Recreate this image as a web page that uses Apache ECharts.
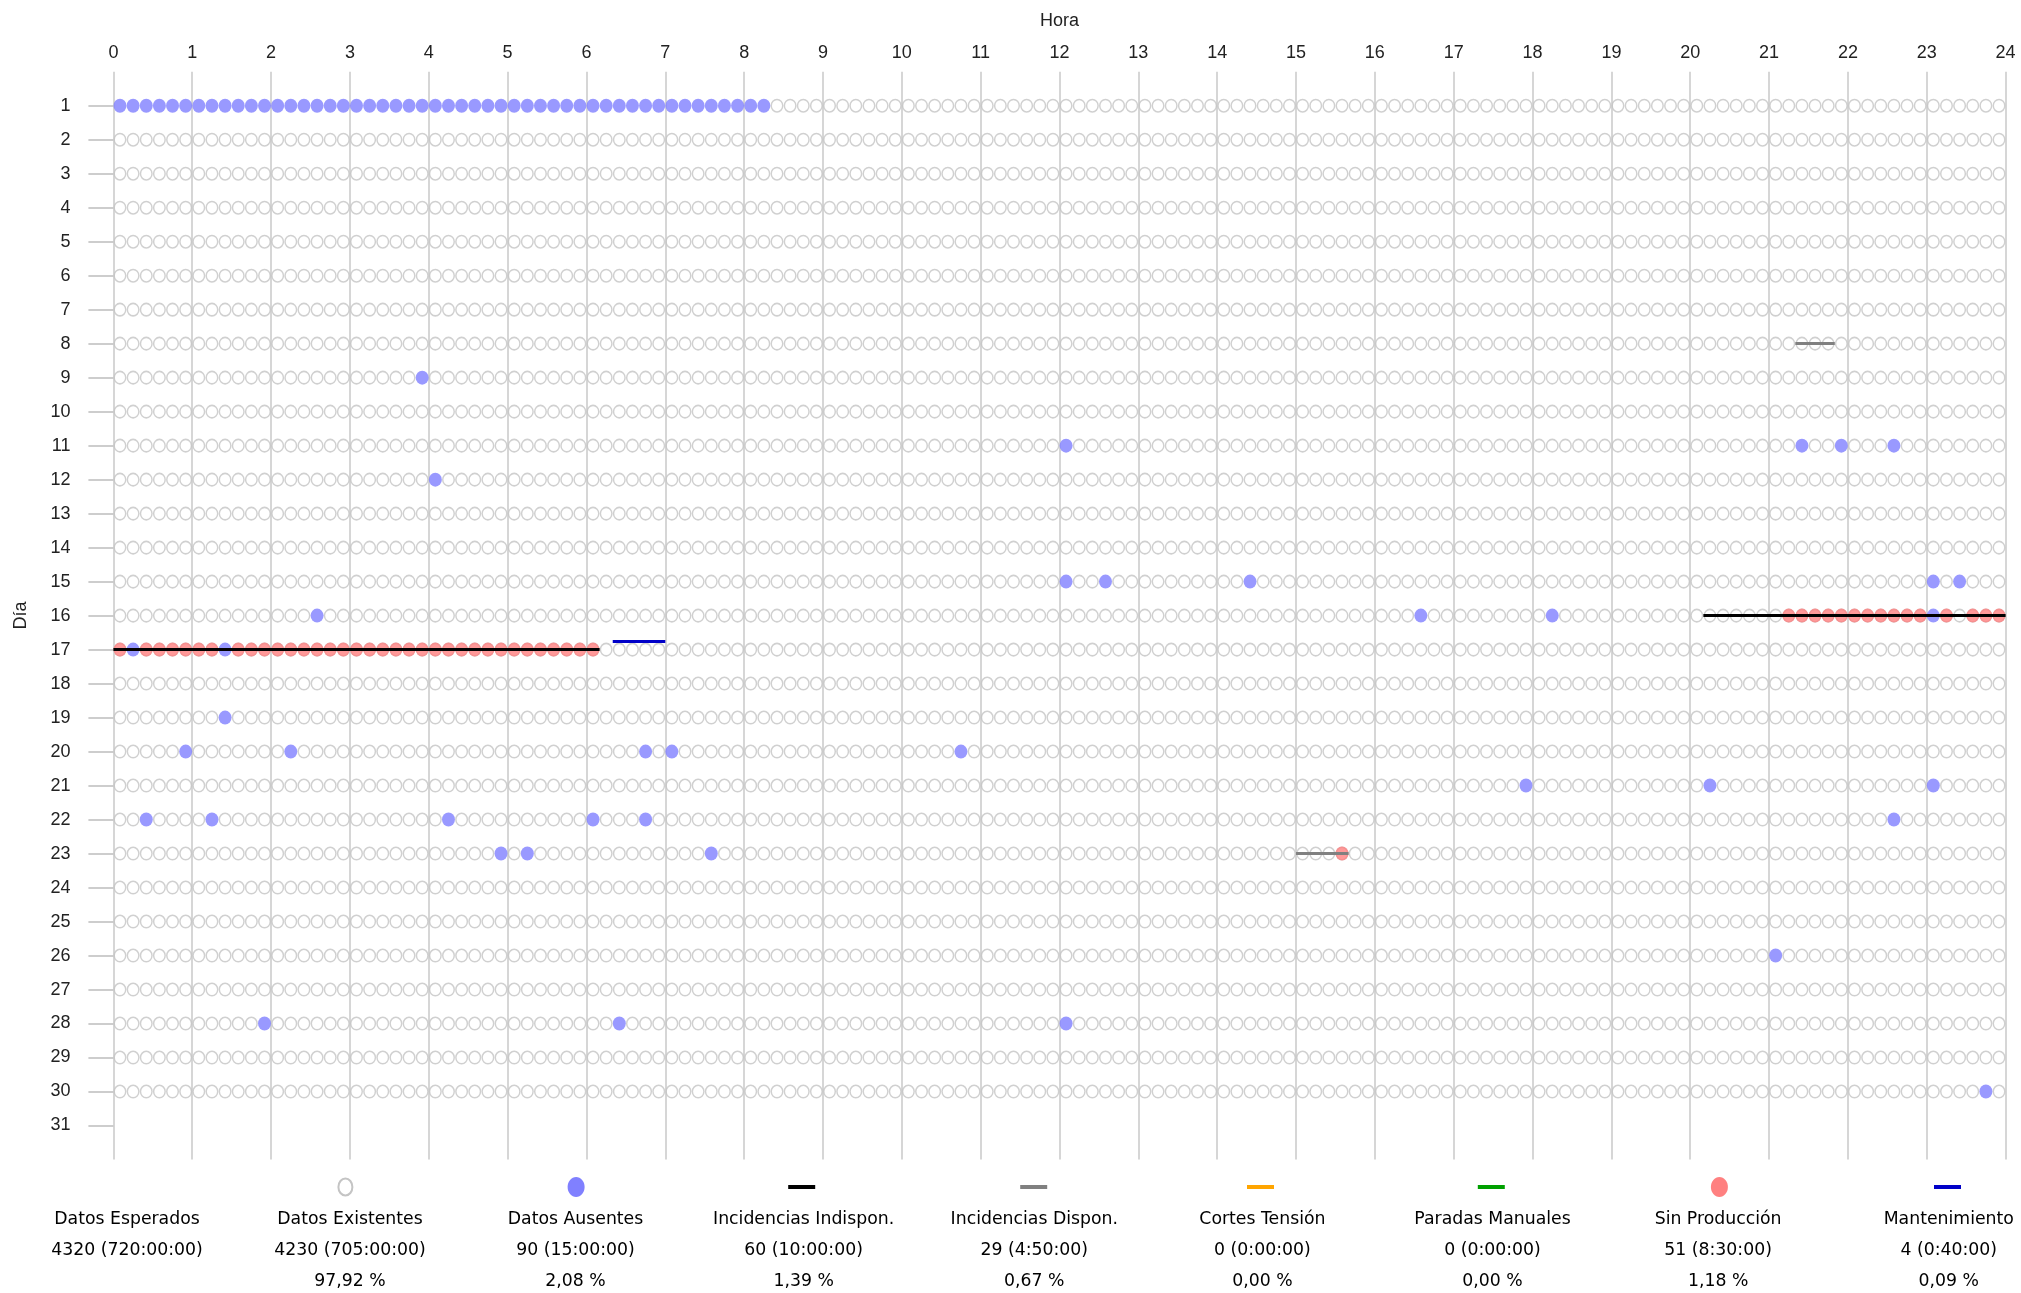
<!DOCTYPE html>
<html><head><meta charset="utf-8">
<script src="https://cdn.jsdelivr.net/npm/echarts@6/dist/echarts.min.js"></script>
<style>html,body{margin:0;padding:0;background:#fff}#c{width:2021px;height:1293px}</style>
</head><body><div id="c"></div>
<script>
// ---------- DATA ----------
const HOUR_TICKS = [0,1,2,3,4,5,6,7,8,9,10,11,12,13,14,15,16,17,18,19,20,21,22,23,24];
const DAY_TICKS = [1,2,3,4,5,6,7,8,9,10,11,12,13,14,15,16,17,18,19,20,21,22,23,24,25,26,27,28,29,30,31];
const DAYS_WITH_DATA = 30;      // days 1..30 have 10-minute records
const SLOT_MINUTES = 10;

// Missing records: [day, first slot start, last slot start]
const AUSENTES = [
  [1,'00:00','08:10'],
  [9,'03:50'],
  [11,'12:00'],[11,'21:20'],[11,'21:50'],[11,'22:30'],
  [12,'04:00'],
  [15,'12:00'],[15,'12:30'],[15,'14:20'],[15,'23:00'],[15,'23:20'],
  [16,'02:30'],[16,'16:30'],[16,'18:10'],[16,'23:00'],
  [17,'00:10'],[17,'01:20'],
  [19,'01:20'],
  [20,'00:50'],[20,'02:10'],[20,'06:40'],[20,'07:00'],[20,'10:40'],
  [21,'17:50'],[21,'20:10'],[21,'23:00'],
  [22,'00:20'],[22,'01:10'],[22,'04:10'],[22,'06:00'],[22,'06:40'],[22,'22:30'],
  [23,'04:50'],[23,'05:10'],[23,'07:30'],
  [26,'21:00'],
  [28,'01:50'],[28,'06:20'],[28,'12:00'],
  [30,'23:40']
];
// No production records: [day, first slot start, last slot start]
const SIN_PRODUCCION = [
  [17,'00:00'],[17,'00:20','01:10'],[17,'01:30','06:00'],
  [16,'21:10','22:50'],[16,'23:10'],[16,'23:30','23:50'],
  [23,'15:30']
];
// Incident periods: [day, start, end]
const INC_INDISPON = [[17,'00:00','06:10'],[16,'20:10','24:00']];
const INC_DISPON = [[8,'21:20','21:50'],[23,'15:00','15:40']];
const CORTES_TENSION = [];
const PARADAS_MANUALES = [];
const MANTENIMIENTO = [[17,'06:20','07:00']];

const LEGEND_NAMES = ['Datos Esperados','Datos Existentes','Datos Ausentes','Incidencias Indispon.','Incidencias Dispon.','Cortes Tensión','Paradas Manuales','Sin Producción','Mantenimiento'];
const LEGEND_COUNTS = ['4320 (720:00:00)','4230 (705:00:00)','90 (15:00:00)','60 (10:00:00)','29 (4:50:00)','0 (0:00:00)','0 (0:00:00)','51 (8:30:00)','4 (0:40:00)'];
const LEGEND_PCTS = ['','97,92 %','2,08 %','1,39 %','0,67 %','0,00 %','0,00 %','1,18 %','0,09 %'];

// ---------- STYLES / LAYOUT ----------
const C_HOLLOW = '#c4c4c4', C_AUS = '#8080ff', C_SINP = '#ff8080';
const C_INDISP = '#000000', C_DISP = '#808080', C_CORTES = '#ffa500', C_PARADAS = '#00a000', C_MANT = '#0000c8';
const MANT_Y_SHIFT = -0.25;
const AXIS_FONT = '"Liberation Sans", Arial, sans-serif';
const LEG_FONT = '"DejaVu Sans", Verdana, sans-serif';
const LEG_TEXT_X = [127, 350, 575.5, 803.6, 1034.3, 1262.4, 1492.5, 1718.1, 1948.8];
const LEG_SYM_X  = [127, 345.4, 576.1, 801.7, 1033.7, 1260.5, 1491.3, 1719.4, 1947.5];
const LEG_SYM_Y = 1187, LEG_ROWS = [1220, 1251, 1282];

// ---------- BUILD ----------
const toMin = s => { const [h,m] = s.split(':').map(Number); return h*60+m; };
function runsToPoints(runs){
  const pts = [];
  runs.forEach(r => {
    const d = r[0], a = toMin(r[1]), b = toMin(r[2] || r[1]);
    for (let m = a; m <= b; m += SLOT_MINUTES) pts.push([(m + SLOT_MINUTES/2)/60, d]);
  });
  return pts;
}
const ausPts = runsToPoints(AUSENTES);
const sinPts = runsToPoints(SIN_PRODUCCION);
const missingKey = new Set(ausPts.map(p => p[1] + '_' + Math.round(p[0]*60)));
const existPts = [];
for (let d = 1; d <= DAYS_WITH_DATA; d++) {
  for (let m = 0; m < 24*60; m += SLOT_MINUTES) {
    const x = (m + SLOT_MINUTES/2)/60;
    if (!missingKey.has(d + '_' + Math.round(x*60))) existPts.push([x, d]);
  }
}
const seg = (arr, dy) => arr.map(r => ({coords: [[toMin(r[1])/60, r[0] + (dy||0)], [toMin(r[2])/60, r[0] + (dy||0)]]}));
function linesSeries(name, arr, color, dy){
  return {name, type:'lines', coordinateSystem:'cartesian2d', polyline:false, silent:true, z:5,
    data: seg(arr, dy), lineStyle:{color, width:3, opacity:1, cap:'butt'}, effect:{show:false}};
}

const series = [
  {name:'Datos Existentes', type:'scatter', data: existPts, symbol:'circle', symbolSize:[11.5,12.5], silent:true, z:2,
   itemStyle:{color:'rgba(0,0,0,0)', borderColor:C_HOLLOW, borderWidth:1.5}},
  {name:'Sin Producción', type:'scatter', data: sinPts, symbol:'circle', symbolSize:[13,14], silent:true, z:3,
   itemStyle:{color:C_SINP}},
  {name:'Datos Ausentes', type:'scatter', data: ausPts, symbol:'circle', symbolSize:[13,14], silent:true, z:4,
   itemStyle:{color:C_AUS}},
  linesSeries('Incidencias Dispon.', INC_DISPON, C_DISP),
  linesSeries('Cortes Tensión', CORTES_TENSION, C_CORTES),
  linesSeries('Paradas Manuales', PARADAS_MANUALES, C_PARADAS),
  linesSeries('Incidencias Indispon.', INC_INDISPON, C_INDISP),
  linesSeries('Mantenimiento', MANTENIMIENTO, C_MANT, MANT_Y_SHIFT)
];

// Legend drawn as graphic elements (symbol + three text lines per column)
const LEG_SYMBOLS = [null,
  {k:'hollow', c:C_HOLLOW}, {k:'dot', c:C_AUS}, {k:'bar', c:C_INDISP}, {k:'bar', c:C_DISP},
  {k:'bar', c:C_CORTES}, {k:'bar', c:C_PARADAS}, {k:'dot', c:C_SINP}, {k:'bar', c:C_MANT}];
const graphic = [];
LEGEND_NAMES.forEach((n, i) => {
  const cx = LEG_TEXT_X[i], sx = LEG_SYM_X[i];
  const s = LEG_SYMBOLS[i];
  if (s) {
    if (s.k === 'hollow') graphic.push({type:'ellipse', shape:{cx:sx, cy:LEG_SYM_Y, rx:7, ry:8.5}, style:{fill:'none', stroke:s.c, lineWidth:2}});
    else if (s.k === 'dot') graphic.push({type:'ellipse', shape:{cx:sx, cy:LEG_SYM_Y, rx:8.5, ry:10}, style:{fill:s.c}});
    else graphic.push({type:'rect', shape:{x:sx-13.5, y:LEG_SYM_Y-2, width:27, height:4}, style:{fill:s.c}});
  }
  [n, LEGEND_COUNTS[i], LEGEND_PCTS[i]].forEach((t, j) => {
    if (!t) return;
    graphic.push({type:'text', x:cx, y:LEG_ROWS[j], style:{text:t, align:'center', verticalAlign:'middle', fontSize:17.3, fontFamily:LEG_FONT, fill:'#000'}});
  });
});

const chart = echarts.init(document.getElementById('c'), null, {renderer:'canvas'});
chart.setOption({
  animation:false,
  backgroundColor:'#fff',
  grid:{left:113.4, right:15.4, top:71.7, bottom:133.5, containLabel:false},
  xAxis:{type:'value', position:'top', min:HOUR_TICKS[0], max:HOUR_TICKS[HOUR_TICKS.length-1], interval:1,
    name:'Hora', nameLocation:'middle', nameGap:42,
    nameTextStyle:{fontFamily:AXIS_FONT, fontSize:18, color:'#222'},
    axisLine:{show:false}, axisTick:{show:false},
    axisLabel:{margin:10, fontFamily:AXIS_FONT, fontSize:18, color:'#222'},
    splitLine:{show:true, lineStyle:{color:'#c8c8c8', width:1.5}}},
  yAxis:{type:'value', inverse:true, min:0, max:32, interval:1, offset:13,
    name:'Día', nameLocation:'middle', nameGap:70, nameRotate:90,
    nameTextStyle:{fontFamily:AXIS_FONT, fontSize:18, color:'#222'},
    axisLine:{show:false},
    axisTick:{show:true, length:25, customValues:DAY_TICKS, lineStyle:{color:'#bdbdbd', width:1.5}},
    axisLabel:{margin:30, customValues:DAY_TICKS, fontFamily:AXIS_FONT, fontSize:18, color:'#222'},
    splitLine:{show:false}},
  graphic,
  series
});
</script></body></html>
